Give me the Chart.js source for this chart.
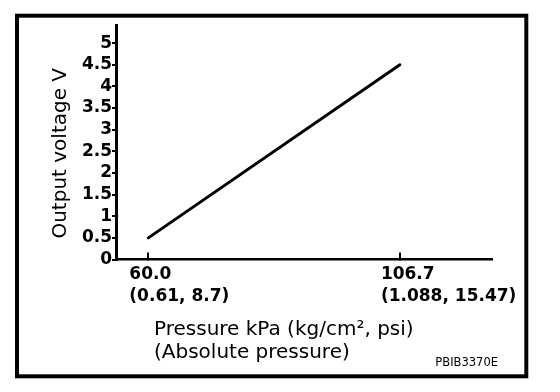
<!DOCTYPE html>
<html>
<head>
<meta charset="utf-8">
<script src="https://cdn.jsdelivr.net/npm/chart.js@4.4.1/dist/chart.umd.min.js"></script>
<style>
    body { margin: 0; background: #fff; }
    canvas { display: block; }
</style>
</head>
<body>
<canvas id="sensorChart" width="560" height="392"></canvas>
<script>
// sensor characteristic: absolute pressure (kPa) vs output voltage (V)
const pressureKpa = [60.0, 106.7];
const outputVoltage = [0.5, 4.5];

const xTickValues = [60.0, 106.7];
const xTickSubLabels = ['(0.61, 8.7)', '(1.088, 15.47)'];
const yTickValues = [0, 0.5, 1, 1.5, 2, 2.5, 3, 3.5, 4, 4.5, 5];

const yTitle = 'Output voltage V';
const xTitleLines = ['Pressure kPa (kg/cm\u00b2, psi)', '(Absolute pressure)'];
const figureCode = 'PBIB3370E';

const FONT = 'DejaVu Sans';

// frame, axis titles and figure code drawn on top of the chart
const decorPlugin = {
    id: 'decor',
    afterDraw(chart) {
        const { ctx, chartArea } = chart;
        ctx.save();
        ctx.strokeStyle = '#000';
        ctx.lineWidth = 4;
        ctx.strokeRect(17, 15.7, 509.3, 360.6);

        ctx.fillStyle = '#000';
        ctx.font = `20px "${FONT}"`;
        ctx.textBaseline = 'alphabetic';

        // y title, rotated
        ctx.save();
        ctx.translate(chartArea.left - 50, (chartArea.top + chartArea.bottom) / 2 + 11);
        ctx.rotate(-Math.PI / 2);
        ctx.textAlign = 'center';
        ctx.fillText(yTitle, 0, 0);
        ctx.restore();

        // x title, two left-aligned lines
        ctx.textAlign = 'left';
        ctx.fillText(xTitleLines[0], chartArea.left + 38, chartArea.bottom + 75.5);
        ctx.fillText(xTitleLines[1], chartArea.left + 38, chartArea.bottom + 98.5);

        ctx.font = `11.5px "${FONT}"`;
        ctx.textAlign = 'right';
        ctx.fillText(figureCode, 498, 366);
        ctx.restore();
    }
};

new Chart(document.getElementById('sensorChart').getContext('2d'), {
    type: 'line',
    data: {
        datasets: [{
            label: 'Output voltage',
            data: pressureKpa.map((p, i) => ({ x: p, y: outputVoltage[i] })),
            borderColor: '#000',
            borderWidth: 3,
            borderCapStyle: 'round',
            pointRadius: 0,
            fill: false,
            tension: 0,
        }],
    },
    options: {
        responsive: false,
        animation: false,
        devicePixelRatio: 1,
        layout: { padding: { top: 25, right: 68, left: 0, bottom: 0 } },
        plugins: {
            legend: { display: false },
            tooltip: { enabled: false },
        },
        scales: {
            x: {
                type: 'linear',
                position: 'bottom',
                min: 54,
                max: 123.8,
                afterBuildTicks: scale => { scale.ticks = xTickValues.map(v => ({ value: v })); },
                afterFit: scale => {
                    scale.height = 132.5;
                    scale.paddingLeft = 0;
                    scale.paddingRight = 0;
                },
                border: { color: '#000', width: 2.5 },
                grid: { drawOnChartArea: false, color: '#000', lineWidth: 2, tickLength: -7 },
                ticks: {
                    align: 'start',
                    labelOffset: -19,
                    padding: 11,
                    maxRotation: 0,
                    autoSkip: false,
                    color: '#000',
                    font: { family: FONT, size: 17, weight: 'bold', lineHeight: 1.3 },
                    callback: (value, index) => [xTickValues[index].toFixed(1), xTickSubLabels[index]],
                },
            },
            y: {
                min: 0,
                max: 5.42,
                afterBuildTicks: scale => { scale.ticks = yTickValues.map(v => ({ value: v })); },
                afterFit: scale => { scale.width = 116; },
                border: { color: '#000', width: 3 },
                grid: { drawOnChartArea: false, color: '#000', lineWidth: 2, tickLength: 4 },
                ticks: {
                    padding: 0,
                    color: '#000',
                    font: { family: FONT, size: 17, weight: 'bold' },
                    callback: value => String(value),
                },
            },
        },
    },
    plugins: [decorPlugin],
});
</script>
</body>
</html>
